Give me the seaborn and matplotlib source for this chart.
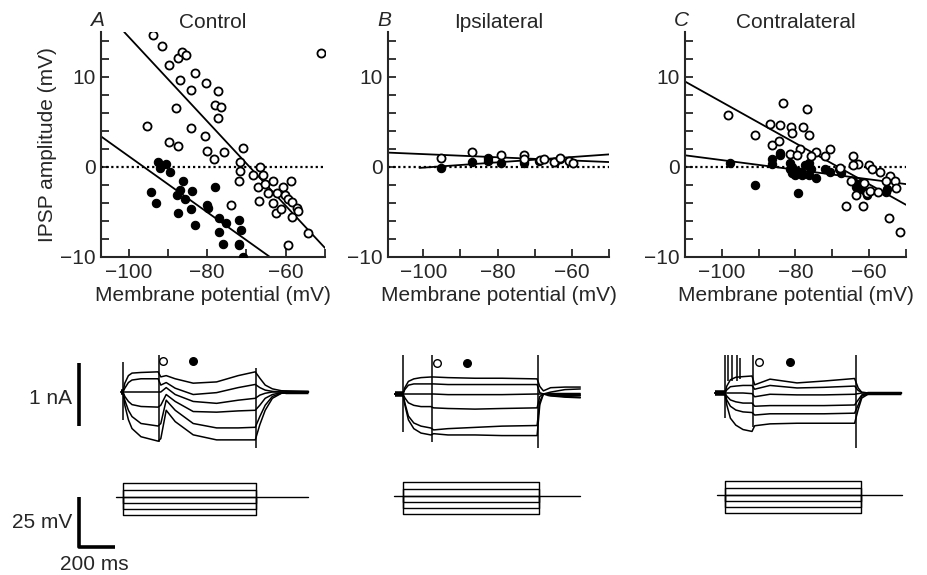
import numpy as np
import pandas as pd
import matplotlib
matplotlib.use("Agg")
import matplotlib.pyplot as plt
import seaborn as sns

# ---- IPSP amplitude vs membrane potential ----
a_open_x = [-93.8, -91.4, -89.8, -87.5, -86.4, -85.3, -83.2, -86.9, -84.1, -80.3, -77.3, -78.1, -76.4,
            -77.3, -87.9, -95.2, -84.1, -80.5, -89.7, -87.5, -80.1, -78.2, -75.6, -70.8, -71.6, -71.6,
            -72.0, -66.5, -68.2, -65.7, -67.0, -65.3, -63.3, -60.8, -58.6, -64.4, -62.3, -60.2, -66.9,
            -63.3, -62.5, -61.2, -59.5, -58.5, -57.2, -58.5, -56.8, -73.9, -59.5, -54.4, -51.0]
a_open_y = [14.7, 13.4, 11.3, 12.1, 12.8, 12.5, 10.5, 9.7, 8.6, 9.3, 8.4, 6.9, 6.7, 5.4, 6.6, 4.6, 4.3,
            3.4, 2.8, 2.3, 1.8, 0.9, 1.7, 2.1, 0.6, -0.4, -1.5, 0.0, -0.9, -0.9, -2.2, -1.9, -1.5, -2.2,
            -1.5, -2.9, -2.9, -3.1, -3.8, -4.0, -5.1, -4.7, -3.5, -3.9, -4.6, -5.5, -4.9, -4.2, -8.7,
            -7.3, 12.7]
a_fill_x = [-92.5, -90.5, -89.4, -91.9, -94.2, -93.1, -87.7, -86.9, -86.2, -85.6, -83.9, -78.1, -87.3,
            -84.1, -83.2, -80.1, -79.8, -77.1, -75.2, -72.0, -71.4, -77.1, -76.0, -72.0, -71.8, -70.8]
a_fill_y = [0.6, 0.3, -0.5, -0.1, -2.8, -4.0, -3.1, -2.5, -1.5, -3.5, -2.7, -2.2, -5.1, -4.7, -6.4,
            -4.2, -4.5, -5.7, -6.2, -5.9, -7.0, -7.2, -8.5, -8.5, -8.7, -10.0]

b_open_x = [-95.2, -86.8, -79.1, -72.8, -72.8, -68.6, -67.5, -64.8, -63.1, -60.7, -59.8]
b_open_y = [1.0, 1.7, 1.3, 1.3, 0.9, 0.8, 0.9, 0.6, 1.0, 0.7, 0.4]
b_fill_x = [-95.2, -86.8, -82.5, -82.5, -79.1, -73.0, -72.8, -68.8, -64.6, -63.3]
b_fill_y = [-0.1, 0.6, 1.0, 0.7, 0.4, 0.4, 0.7, 0.7, 0.6, 0.9]

c_open_x = [-98.2, -91.1, -83.5, -76.8, -86.8, -84.1, -81.2, -80.9, -77.9, -76.4, -86.4, -84.4, -81.5,
            -78.8, -79.5, -74.3, -75.7, -70.7, -72.0, -67.9, -64.5, -62.9, -64.3, -60.0, -59.1, -57.0,
            -54.3, -53.0, -52.7, -55.5, -64.8, -63.6, -66.4, -61.8, -60.7, -59.7, -57.5, -54.5, -51.6,
            -61.4]
c_open_y = [5.8, 3.6, 7.1, 6.5, 4.8, 4.7, 4.5, 3.8, 4.4, 3.6, 2.4, 2.9, 1.5, 2.0, 1.3, 1.7, 1.2, 2.0,
            1.2, -0.1, 1.2, 0.3, 0.2, 0.2, -0.2, -0.6, -1.0, -1.6, -2.3, -1.6, -1.6, -3.1, -4.3, -4.3,
            -2.9, -2.7, -2.8, -5.7, -7.2, -1.8]
c_fill_x = [-97.9, -91.1, -79.4, -86.5, -86.4, -84.1, -84.1, -81.5, -81.4, -80.9, -79.5, -78.6, -77.3,
            -76.4, -75.7, -74.3, -76.4, -78.2, -72.1, -70.5, -68.2, -67.7, -64.5, -63.6, -62.7, -60.9,
            -60.6, -55.5, -55.2, -62.3, -80.9, -80.0]
c_fill_y = [0.4, -2.0, -2.9, 0.3, 0.9, 1.6, 1.3, 0.4, -0.2, -0.7, -0.4, -0.6, 0.2, 0.4, -0.2, -1.2,
            -0.9, -0.9, -0.2, -0.6, -0.2, -0.7, -1.6, -2.2, -1.9, -2.8, -3.1, -2.8, -2.4, -2.4, 0.0, -0.9]

# regression lines (end points)
a_fits = [([-101.1, -50.0], [15.0, -9.0]), ([-107.0, -64.0], [3.4, -10.0])]
b_fits = [([-109.5, -50.0], [1.6, 0.55]), ([-101.0, -50.0], [-0.1, 1.4])]
c_fits = [([-110.0, -50.0], [9.5, -4.2]), ([-110.0, -50.0], [1.3, -1.9])]

# ---- current traces: time (ms from step onset), current (nA from holding) ----
tA = [-10, 0, 10, 30, 50, 100, 195, 210, 240, 290, 390, 520, 640, 735, 760, 790, 830, 880, 1030]
IA = [
    [0, 0, 0.14, 0.26, 0.30, 0.31, 0.32, 0.24, 0.26, 0.21, 0.14, 0.16, 0.26, 0.32, 0.22, 0.11, 0.05, 0.02, 0.01],
    [0, 0, 0.06, 0.15, 0.19, 0.21, 0.21, 0.11, 0.15, 0.06, -0.04, -0.01, 0.07, 0.12, 0.07, 0.03, 0.01, 0, 0],
    [0, 0, 0, 0, 0, 0, 0, 0, 0.07, -0.04, -0.15, -0.18, -0.13, -0.10, -0.05, -0.02, 0, 0, 0],
    [0, 0, -0.07, -0.15, -0.20, -0.23, -0.24, -0.21, -0.04, -0.15, -0.31, -0.32, -0.30, -0.29, -0.21, -0.10, -0.04, -0.01, 0],
    [0, 0, -0.13, -0.29, -0.39, -0.50, -0.54, -0.50, -0.13, -0.29, -0.50, -0.57, -0.57, -0.56, -0.39, -0.21, -0.07, -0.02, 0],
    [0, 0, -0.21, -0.44, -0.58, -0.71, -0.78, -0.74, -0.29, -0.47, -0.68, -0.76, -0.76, -0.76, -0.52, -0.29, -0.10, -0.02, 0],
]
tB = [-45, 0, 10, 30, 60, 100, 155, 170, 250, 400, 550, 745, 760, 780, 820, 900, 985]
IB = [
    [0, 0, 0.10, 0.20, 0.24, 0.26, 0.27, 0.27, 0.26, 0.25, 0.25, 0.24, 0.12, 0.05, 0.10, 0.11, 0.11],
    [0, 0, 0.07, 0.14, 0.16, 0.16, 0.16, 0.16, 0.15, 0.15, 0.15, 0.15, 0.02, 0, 0.03, 0.07, 0.08],
    [0, 0, 0, 0, 0, 0, 0, 0, -0.01, -0.01, -0.01, 0, 0, 0, 0, 0, 0],
    [0, 0, -0.06, -0.14, -0.18, -0.20, -0.20, -0.22, -0.23, -0.24, -0.23, -0.22, -0.04, 0, -0.01, -0.02, -0.02],
    [0, 0, -0.14, -0.35, -0.46, -0.51, -0.54, -0.57, -0.55, -0.53, -0.51, -0.50, -0.12, 0, -0.02, -0.04, -0.05],
    [0, 0, -0.17, -0.41, -0.55, -0.62, -0.65, -0.63, -0.65, -0.65, -0.66, -0.66, -0.17, 0, -0.03, -0.05, -0.06],
]
tC = [-55, 0, 10, 30, 60, 100, 150, 165, 250, 400, 550, 720, 740, 760, 800, 900, 980]
IC = [
    [0, 0, 0.11, 0.21, 0.25, 0.26, 0.27, 0.13, 0.22, 0.16, 0.19, 0.23, 0.08, 0.01, 0, 0, 0],
    [0, 0, 0.05, 0.10, 0.11, 0.12, 0.12, 0.06, 0.12, 0.08, 0.09, 0.11, 0.04, 0.01, 0, 0, 0],
    [0, 0, 0, 0, 0, 0, -0.01, -0.06, -0.02, -0.03, -0.03, -0.02, -0.01, 0, 0, 0, 0],
    [0, 0, -0.05, -0.11, -0.14, -0.16, -0.16, -0.21, -0.20, -0.20, -0.20, -0.19, -0.11, -0.03, 0, 0, 0],
    [0, 0, -0.11, -0.21, -0.27, -0.30, -0.31, -0.35, -0.33, -0.33, -0.33, -0.32, -0.19, -0.05, -0.01, 0, 0],
    [0, 0, -0.19, -0.40, -0.51, -0.58, -0.61, -0.52, -0.49, -0.48, -0.48, -0.48, -0.26, -0.08, -0.01, 0, 0],
]
# capacitive / stimulus artefacts: (time, top, bottom)
artA = [(0, 0.48, -0.44), (200, 0.59, -0.79), (740, 0.38, -0.89)]
artB = [(0, 0.62, -0.60), (161, 0.62, -0.76), (750, 0.62, -0.86)]
artC = [(0, 0.60, -0.40), (18, 0.61, 0.19), (37, 0.61, 0.19), (65, 0.61, 0.19), (83, 0.55, 0.22),
        (157, 0.60, -0.54), (728, 0.60, -0.87)]
# measurement times for open / filled symbols
markA = [222, 389]
markB = [189, 356]
markC = [189, 361]

# voltage command steps (mV from holding) and timing (start, duration, end) in ms
vsteps = [7, 3.5, 0, -3, -6, -9]
vtimeA = (-39, 739, 1028)
vtimeB = (-50, 756, 983)
vtimeC = (-44, 756, 983)

sns.set_style("ticks")
plt.rcParams['font.family'] = ['Liberation Sans', 'DejaVu Sans']
FS = 15

W, H = 927, 575
fig = plt.figure(figsize=(W / 100, H / 100), dpi=100)


def px_axes(left, top, right, bottom):
    return fig.add_axes([left / W, 1 - bottom / H, (right - left) / W, (bottom - top) / H])


top_panels = [
    ("A", "Control", (101, 325), (-107, -50), a_open_x, a_open_y, a_fill_x, a_fill_y, a_fits),
    ("B", "Ipsilateral", (388, 609), (-109.5, -50), b_open_x, b_open_y, b_fill_x, b_fill_y, b_fits),
    ("C", "Contralateral", (685, 906), (-110, -50), c_open_x, c_open_y, c_fill_x, c_fill_y, c_fits),
]

for i, (letter, title, (l, r), xlim, ox, oy, fx, fy, fits) in enumerate(top_panels):
    ax = px_axes(l, 32, r, 257)
    ax.axhline(0, color='black', ls=(0, (1, 1.3)), lw=1.6, zorder=1)
    for lx, ly in fits:
        sns.lineplot(x=lx, y=ly, ax=ax, color='black', lw=1.3, estimator=None, sort=False, zorder=2)
    sns.scatterplot(x=fx, y=fy, ax=ax, color='black', edgecolor='black', s=36, linewidth=0.8, zorder=3)
    sns.scatterplot(x=ox, y=oy, ax=ax, color='white', edgecolor='black', s=34, linewidth=1.3, zorder=4)
    ax.set_xlim(*xlim)
    ax.set_ylim(-10, 15)
    ax.set_xticks([-100, -80, -60])
    ax.set_xticks([-90, -70, -50], minor=True)
    ax.set_yticks([-10, 0, 10])
    ax.set_yticks([-8, -6, -4, -2, 2, 4, 6, 8, 12, 14], minor=True)
    ax.tick_params(which='both', direction='in', length=6, width=1.3, labelsize=FS, pad=4)
    sns.despine(ax=ax)
    for s in ['left', 'bottom']:
        ax.spines[s].set_linewidth(1.5)
    ax.set_xlabel("Membrane potential (mV)", fontsize=FS, labelpad=3)
    if i == 0:
        ax.set_ylabel("IPSP amplitude (mV)", fontsize=FS, labelpad=2)
    else:
        ax.set_ylabel("")
    ax.set_title(title, fontsize=FS, pad=2)
    fig.text((l - 4) / W, 1 - 21 / H, letter, fontsize=FS, style='italic', ha='center', va='center')

# ---- lower traces ----
MS_PER_PX = 200 / 36
NA_PER_PX = 1 / 63
MV_PER_PX = 25 / 50

bottom_panels = [
    (123, 392, 497, tA, IA, artA, markA, vtimeA, (-12, 0), (900, 1030)),
    (403, 394, 496, tB, IB, artB, markB, vtimeB, (-45, 0), (800, 985)),
    (725, 393, 495, tC, IC, artC, markC, vtimeC, (-55, 0), (790, 980)),
]

axes_I = []
axes_V = []
for onset, hI, hV, t, currents, arts, marks, (vs, vd, ve), hbar, rbar in bottom_panels:
    axI = px_axes(onset - 60, 350, onset + 190, 455)
    axI.set_xlim(-60 * MS_PER_PX, 190 * MS_PER_PX)
    axI.set_ylim((hI - 455) * NA_PER_PX, (hI - 350) * NA_PER_PX)
    axI.axis('off')
    for cur in currents:
        axI.plot(t, cur, color='black', lw=1.1)
    for at, top, bot in arts:
        axI.vlines(at, bot, top, color='black', lw=1.1)
    axI.plot(hbar, [0, 0], color='black', lw=4, solid_capstyle='butt')
    axI.plot(rbar, [0, 0], color='black', lw=2.5, solid_capstyle='butt')
    axI.scatter([marks[0]], [0.49], s=30, facecolor='white', edgecolor='black', lw=1.0, zorder=5)
    axI.scatter([marks[1]], [0.49], s=30, color='black', zorder=5)
    axes_I.append(axI)

    axV = px_axes(onset - 60, 470, onset + 190, 560)
    axV.set_xlim(-60 * MS_PER_PX, 190 * MS_PER_PX)
    axV.set_ylim((hV - 560) * MV_PER_PX, (hV - 470) * MV_PER_PX)
    axV.axis('off')
    axV.plot([vs, ve], [0, 0], color='black', lw=1.0)
    for v in vsteps:
        axV.plot([0, 0, vd, vd], [0, v, v, 0], color='black', lw=1.0)
    axes_V.append(axV)

# scale bars (panel A)
bar_t = -244
axes_I[0].plot([bar_t, bar_t], [0.46, -0.54], color='black', lw=2.6, clip_on=False, solid_capstyle='butt')
axes_I[0].text(bar_t - 39, -0.1, "1 nA", fontsize=FS, ha='right', va='center')
axes_V[0].plot([bar_t, bar_t, bar_t + 200], [0, -25, -25], color='black', lw=2.6, clip_on=False,
               solid_capstyle='butt')
axes_V[0].text(bar_t - 39, -13, "25 mV", fontsize=FS, ha='right', va='center')
axes_V[0].text(bar_t + 83, -34, "200 ms", fontsize=FS, ha='center', va='center')

fig.savefig("out.png", dpi=100, facecolor='white')
